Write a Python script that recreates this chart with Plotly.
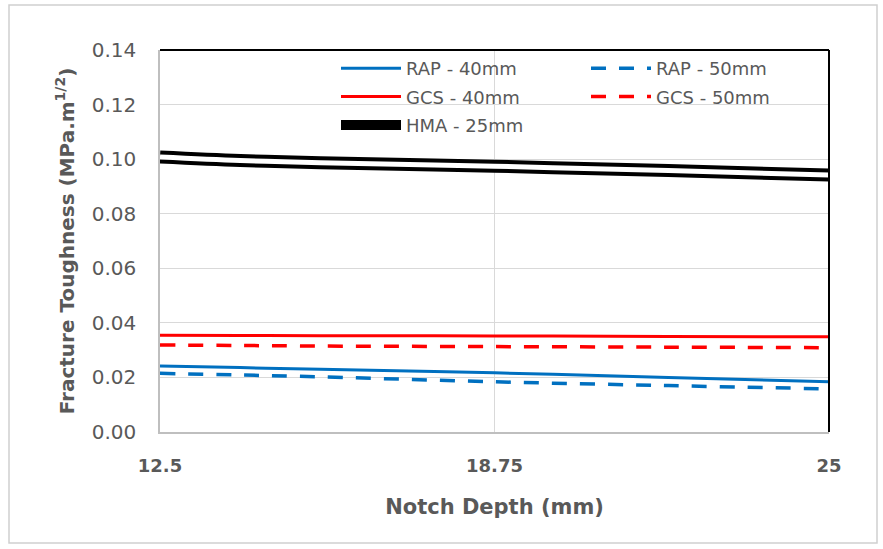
import plotly.graph_objects as go

notch_depth = [12.5, 14.0, 15.5, 18.75, 22.0, 25.0]
rap_40 = [0.0242, 0.0236, 0.0230, 0.0217, 0.0200, 0.0184]
rap_50 = [0.0215, 0.0209, 0.0202, 0.0184, 0.0170, 0.0158]
gcs_40 = [0.0355, 0.0354, 0.0353, 0.0352, 0.0350, 0.0349]
gcs_50 = [0.0319, 0.0317, 0.0315, 0.0313, 0.0311, 0.0309]
hma_25 = [0.1008, 0.0995, 0.0987, 0.0974, 0.0958, 0.0942]

x_ticks = [12.5, 18.75, 25]
x_tick_text = ["12.5", "18.75", "25"]

W, H = 883, 549
L, R, T, B = 160, 54, 50, 117
pw, ph = W - L - R, H - T - B

BLUE = "#0070c0"
RED = "#ff0000"
GRAY = "#595959"
FONT = "DejaVu Sans, sans-serif"

fig = go.Figure()
fig.add_trace(go.Scatter(x=notch_depth, y=rap_40, mode="lines", name="RAP - 40mm",
                         legend="legend", legendgroup="a",
                         line=dict(color=BLUE, width=3, shape="spline")))
fig.add_trace(go.Scatter(x=notch_depth, y=rap_50, mode="lines", name="RAP - 50mm",
                         legend="legend2", legendgroup="b",
                         line=dict(color=BLUE, width=3.5, dash="15px,13px", shape="spline")))
fig.add_trace(go.Scatter(x=notch_depth, y=gcs_40, mode="lines", name="GCS - 40mm",
                         legend="legend", legendgroup="c",
                         line=dict(color=RED, width=3, shape="spline")))
fig.add_trace(go.Scatter(x=notch_depth, y=gcs_50, mode="lines", name="GCS - 50mm",
                         legend="legend2", legendgroup="d",
                         line=dict(color=RED, width=3.5, dash="15px,13px", shape="spline")))
fig.add_trace(go.Scatter(x=notch_depth, y=hma_25, mode="lines", name="HMA - 25mm",
                         legend="legend", legendgroup="e",
                         line=dict(color="black", width=13, shape="spline")))
fig.add_trace(go.Scatter(x=notch_depth, y=hma_25, mode="lines", name="HMA - 25mm",
                         showlegend=False, hoverinfo="skip",
                         line=dict(color="white", width=5, shape="spline")))

legend_common = dict(orientation="v", y=1.0, xanchor="left", yanchor="top",
                     itemwidth=60, bgcolor="rgba(255,255,255,0)",
                     font=dict(size=18, color=GRAY, family=FONT), tracegroupgap=2)

fig.update_layout(
    width=W, height=H,
    margin=dict(l=L, r=R, t=T, b=B),
    paper_bgcolor="white", plot_bgcolor="white",
    font=dict(family=FONT, color=GRAY, size=16),
    legend=dict(x=(336 - L) / pw, **legend_common),
    legend2=dict(x=(586 - L) / pw, **legend_common),
    xaxis=dict(range=[12.5, 25], tickvals=x_ticks, ticktext=x_tick_text,
               showgrid=True, gridcolor="#d9d9d9", gridwidth=1,
               showline=True, linecolor="#bfbfbf", linewidth=1.5, zeroline=False,
               ticks="", ticklabelstandoff=17,
               tickfont=dict(size=18, color=GRAY, family=FONT, weight="bold"),
               title=dict(text="<b>Notch Depth (mm)</b>", font=dict(size=21, color=GRAY), standoff=24)),
    yaxis=dict(range=[0, 0.14], dtick=0.02, tickformat=".2f",
               showgrid=True, gridcolor="#d9d9d9", gridwidth=1,
               showline=True, linecolor="#bfbfbf", linewidth=1.5, zeroline=False,
               ticks="", ticklabelstandoff=18,
               tickfont=dict(size=20, color=GRAY),
               title=dict(text="<b>Fracture Toughness (MPa.m<sup>1/2</sup>)</b>",
                          font=dict(size=20, color=GRAY), standoff=12)),
    shapes=[
        dict(type="line", xref="paper", yref="paper", x0=0, x1=1, y0=1, y1=1,
             line=dict(color="black", width=2)),
        dict(type="line", xref="paper", yref="paper", x0=1, x1=1, y0=0, y1=1,
             line=dict(color="black", width=2)),
        dict(type="rect", xref="paper", yref="paper",
             x0=(9 - L) / pw, x1=(877 - L) / pw,
             y0=(H - B - 543) / ph, y1=(H - B - 5) / ph,
             line=dict(color="#d0d0d0", width=1.5), layer="below"),
    ],
)

fig.write_html("out.html", config={"displayModeBar": False},
               post_script="document.body.style.margin='0px';")
